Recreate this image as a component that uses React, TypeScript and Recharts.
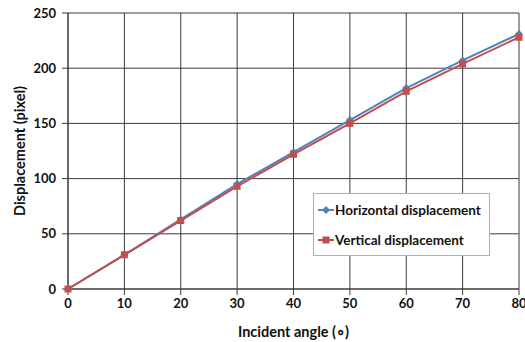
import React from "react";
import {
  LineChart,
  Line,
  XAxis,
  YAxis,
  CartesianGrid,
  Label,
} from "recharts";

const angles = [0, 10, 20, 30, 40, 50, 60, 70, 80];
const horizontal = [0, 31, 63, 95, 124, 153, 182, 207, 231];
const vertical = [0, 31, 62, 93, 122, 150, 179, 204, 228];
const xTicks = [0, 10, 20, 30, 40, 50, 60, 70, 80];
const yTicks = [0, 50, 100, 150, 200, 250];
const seriesNames = ["Horizontal displacement", "Vertical displacement"];

const BLUE = "#4F81BD";
const RED = "#C0504D";
const FONT = "Lato, 'Open Sans', sans-serif";

const data = angles.map((a, i) => ({
  angle: a,
  horizontal: horizontal[i],
  vertical: vertical[i],
}));

const Diamond = (props: any) => {
  const { cx, cy } = props;
  if (cx == null || cy == null) return null;
  const r = 4;
  return (
    <path
      d={`M${cx},${cy - r}L${cx + r},${cy}L${cx},${cy + r}L${cx - r},${cy}Z`}
      fill={BLUE}
    />
  );
};

const Square = (props: any) => {
  const { cx, cy } = props;
  if (cx == null || cy == null) return null;
  return <rect x={cx - 3.5} y={cy - 3.5} width={7} height={7} fill={RED} />;
};

// rotated y title, centred on the plot height
const YTitle = (props: any) => {
  const vb = props.viewBox || {};
  const cy = vb.y + vb.height / 2;
  const x = 19;
  return (
    <text
      x={x}
      y={cy}
      transform={`rotate(-90, ${x}, ${cy})`}
      textAnchor="middle"
      dominantBaseline="central"
      style={{ fontFamily: FONT, fontWeight: 700, fontSize: 14.5, fill: "#111" }}
    >
      Displacement (pixel)
    </text>
  );
};

// legend sits inside the plot, so it's drawn over the chart instead of via <Legend>
const LegendBox = () => (
  <div
    style={{
      position: "absolute",
      left: 313,
      top: 193,
      width: 175,
      height: 61,
      background: "#fff",
      border: "1px solid #b0b0b0",
      fontFamily: FONT,
      fontWeight: 700,
      fontSize: 13.5,
      color: "#111",
    }}
  >
    {seriesNames.map((name, i) => (
      <div
        key={name}
        style={{
          display: "flex",
          alignItems: "center",
          height: 16,
          marginTop: i === 0 ? 8 : 14,
          marginLeft: 4,
        }}
      >
        <svg width={16} height={10} style={{ marginRight: 1 }}>
          <line x1={0} y1={5} x2={16} y2={5} stroke={i === 0 ? BLUE : RED} strokeWidth={2} />
          {i === 0 ? (
            <path d="M8,1L12,5L8,9L4,5Z" fill={BLUE} />
          ) : (
            <rect x={4.5} y={1.5} width={7} height={7} fill={RED} />
          )}
        </svg>
        <span>{name}</span>
      </div>
    ))}
  </div>
);

export default function App() {
  const tickStyle = {
    fontFamily: FONT,
    fontWeight: 700,
    fontSize: 13,
    fill: "#111",
  };
  return (
    <div style={{ position: "absolute", left: 0, top: 0, width: 525, height: 342, background: "#fff" }}>
      <LineChart
        width={525}
        height={342}
        data={data}
        margin={{ top: 13, right: 6, left: 0, bottom: 0 }}
      >
        <CartesianGrid stroke="#3a3a3a" strokeWidth={1} verticalValues={xTicks} />
        <XAxis
          dataKey="angle"
          type="number"
          domain={[0, 80]}
          ticks={xTicks}
          interval={0}
          height={53}
          tickSize={6}
          tickMargin={4}
          stroke="#3a3a3a"
          tick={tickStyle}
        >
          <Label
            value="Incident angle (∘)"
            position="insideBottom"
            offset={5}
            style={{ fontFamily: FONT, fontWeight: 700, fontSize: 14.5, fill: "#111" }}
          />
        </XAxis>
        <YAxis
          type="number"
          domain={[0, 250]}
          ticks={yTicks}
          interval={0}
          width={68}
          tickSize={6}
          tickMargin={6}
          stroke="#3a3a3a"
          tick={tickStyle}
        >
          <Label content={<YTitle />} />
        </YAxis>
        <Line
          dataKey="horizontal"
          name={seriesNames[0]}
          stroke={BLUE}
          strokeWidth={2}
          dot={<Diamond />}
          activeDot={false}
          isAnimationActive={false}
        />
        <Line
          dataKey="vertical"
          name={seriesNames[1]}
          stroke={RED}
          strokeWidth={2}
          dot={<Square />}
          activeDot={false}
          isAnimationActive={false}
        />
      </LineChart>
      <LegendBox />
    </div>
  );
}
